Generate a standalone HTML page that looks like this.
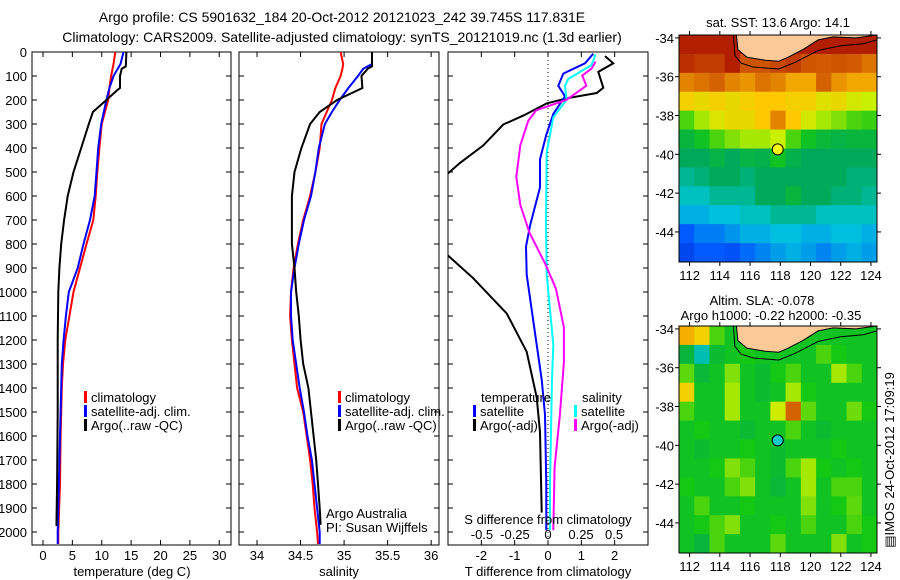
<!DOCTYPE html>
<html><head><meta charset="utf-8">
<style>
html,body{margin:0;padding:0;background:#fff;}
svg{display:block;font-family:"Liberation Sans",sans-serif;}
</style></head>
<body>
<svg id="chart" width="900" height="580" viewBox="0 0 900 580" xmlns="http://www.w3.org/2000/svg">
<text x="342" y="22" font-size="14" text-anchor="middle">Argo profile: CS 5901632_184 20-Oct-2012 20121023_242 39.745S 117.831E</text>
<text x="342" y="42" font-size="14" text-anchor="middle">Climatology: CARS2009. Satellite-adjusted climatology: synTS_20121019.nc (1.3d earlier)</text>
<g id="g"></g>
</svg>
<script>
// ---- profile data ----
const depthT = [0,50,100,150,200,300,400,500,600,700,800,900,1000,1100,1200,1300,1400,1500,1600,1800,2000,2050];
const tempClim = [12.3,12.0,11.6,11.3,11.1,10.0,9.6,9.25,8.97,8.57,7.4,6.3,5.2,4.5,3.8,3.4,3.2,3.1,3.0,2.9,2.6,2.6];
const tempSat = [13.7,13.2,12.0,11.3,10.8,9.9,9.4,9.1,8.8,8.0,6.9,5.9,4.4,3.9,3.5,3.2,3.1,3.0,2.9,2.7,2.5,2.5];
const depthTA = [0,60,70,100,150,160,200,250,300,400,500,600,700,800,900,1000,1200,1500,1800,1950,1975];
const tempArgo = [14.2,14.1,13.4,13.1,13.1,12.6,10.8,8.5,7.8,6.5,5.2,4.2,3.6,3.1,2.8,2.6,2.5,2.5,2.4,2.3,2.3];
const depthS = [0,50,70,100,150,200,250,300,400,500,600,700,800,900,1000,1100,1200,1300,1400,1500,1600,1700,1800,1900,2000,2050];
const salClim = [34.96,34.99,34.98,34.96,34.90,34.86,34.80,34.74,34.72,34.67,34.61,34.53,34.47,34.42,34.39,34.38,34.40,34.43,34.46,34.53,34.57,34.61,34.64,34.66,34.69,34.70];
const salSat = [35.32,35.32,35.22,35.16,35.05,34.95,34.86,34.78,34.71,34.67,34.62,34.54,34.48,34.43,34.39,34.39,34.41,34.45,34.49,34.54,34.58,34.63,34.66,34.69,34.72,34.72];
const depthSA = [0,60,70,100,150,200,250,300,400,500,600,700,800,900,1000,1100,1200,1300,1400,1500,1600,1700,1800,1900,1970];
const salArgo = [35.32,35.32,35.27,35.20,35.21,34.92,34.72,34.61,34.51,34.43,34.40,34.40,34.40,34.43,34.45,34.48,34.50,34.53,34.59,34.62,34.65,34.68,34.70,34.72,34.73];
// difference panel
const dDepthTS = [7,47,90,141,185,258,345,447,564,724,811,928,1074,1220,1365,1511,1802,1992];
const dTSat = [1.36,1.11,0.46,0.31,0.51,0.16,-0.05,-0.24,-0.24,-0.54,-0.66,-0.64,-0.49,-0.34,-0.19,-0.09,-0.05,-0.05];
const dDepthTA = [17,47,83,149,171,193,214,265,302,389,462,506,600,700,800,848,943,1089,1249,1439,1584,1919];
const dTArgo = [1.71,1.96,1.51,1.66,1.46,0.56,-0.04,-0.74,-1.34,-1.94,-2.64,-3.0,-3.8,-3.8,-3.3,-3.0,-2.24,-1.24,-0.64,-0.34,-0.24,-0.19];
const dDepthSS = [10,54,112,141,199,272,418,710,928,1074,1220,1365,1802,1992];
const dSSat = [0.36,0.33,0.154,0.129,0.14,0.04,-0.01,-0.015,-0.01,0.015,0.04,0.03,0.015,0.015];
const dDepthSA = [40,69,98,141,199,243,287,389,520,637,753,884,986,1147,1293,1511,1729,1992];
const dSArgo = [0.36,0.33,0.26,0.29,0.14,-0.09,-0.15,-0.21,-0.24,-0.21,-0.14,-0.02,0.06,0.12,0.12,0.09,0.05,0.04];
const depthTicks = [0,100,200,300,400,500,600,700,800,900,1000,1100,1200,1300,1400,1500,1600,1700,1800,1900,2000];
const tempTicks = [0,5,10,15,20,25,30];
const salTicks = [34,34.5,35,35.5,36];
const tdTicks = [-2,-1,0,1,2];
const sdTicks = [-0.5,-0.25,0,0.25,0.5];
const sdTickLabels = ["-0.5","-0.25","0","0.25","0.5"];
// map data (values 0..1 on colour scale), rows from -34 southward, cols from 111.3 eastward
const sstGrid = [
[0.95,0.95,0.95,0.95,0.95,0.95,0.95,0.95,0.95,0.95,0.95,0.95,0.95],
[0.92,0.9,0.9,0.95,0.86,0.86,0.88,0.9,0.86,0.85,0.86,0.85,0.82],
[0.8,0.82,0.84,0.8,0.78,0.82,0.8,0.76,0.76,0.84,0.78,0.76,0.76],
[0.7,0.68,0.7,0.68,0.7,0.72,0.72,0.7,0.7,0.66,0.68,0.64,0.62],
[0.55,0.6,0.65,0.68,0.68,0.72,0.8,0.72,0.64,0.6,0.58,0.55,0.54],
[0.46,0.5,0.55,0.58,0.6,0.6,0.62,0.55,0.5,0.47,0.45,0.46,0.46],
[0.42,0.42,0.45,0.42,0.45,0.44,0.5,0.44,0.42,0.42,0.42,0.42,0.42],
[0.38,0.4,0.42,0.42,0.4,0.42,0.42,0.42,0.42,0.42,0.42,0.4,0.4],
[0.35,0.35,0.38,0.38,0.38,0.42,0.42,0.46,0.42,0.42,0.4,0.4,0.38],
[0.3,0.3,0.32,0.32,0.35,0.35,0.38,0.38,0.38,0.35,0.35,0.35,0.35],
[0.2,0.24,0.24,0.27,0.3,0.3,0.32,0.32,0.3,0.3,0.32,0.32,0.3],
[0.16,0.2,0.2,0.18,0.22,0.25,0.28,0.3,0.28,0.25,0.28,0.3,0.28]];
const slaGrid = [
[0.75,0.7,0.55,0.5,0.5,0.5,0.5,0.5,0.5,0.5,0.5,0.5,0.5],
[0.46,0.36,0.48,0.5,0.52,0.5,0.5,0.5,0.5,0.55,0.52,0.5,0.5],
[0.56,0.47,0.5,0.58,0.5,0.48,0.52,0.55,0.5,0.5,0.6,0.55,0.5],
[0.7,0.5,0.5,0.6,0.5,0.48,0.5,0.6,0.52,0.5,0.5,0.5,0.5],
[0.55,0.5,0.5,0.6,0.5,0.5,0.63,0.84,0.56,0.5,0.5,0.57,0.52],
[0.5,0.52,0.5,0.5,0.48,0.5,0.5,0.55,0.5,0.48,0.5,0.5,0.5],
[0.5,0.48,0.5,0.5,0.52,0.5,0.48,0.5,0.5,0.5,0.52,0.5,0.5],
[0.5,0.5,0.52,0.58,0.55,0.5,0.48,0.55,0.6,0.52,0.5,0.52,0.5],
[0.52,0.5,0.5,0.55,0.58,0.5,0.47,0.5,0.6,0.5,0.55,0.55,0.5],
[0.5,0.55,0.5,0.5,0.52,0.5,0.5,0.5,0.58,0.5,0.52,0.56,0.5],
[0.5,0.52,0.55,0.58,0.5,0.5,0.52,0.5,0.55,0.5,0.5,0.55,0.52],
[0.5,0.46,0.55,0.5,0.5,0.5,0.56,0.5,0.5,0.5,0.58,0.5,0.52]];
const lonTicks = [112,114,116,118,120,122,124];
const latTicks = [-34,-36,-38,-40,-42,-44];
const argoLon = 117.83, argoLat = -39.745;
const landLon = [115.1,115.2,115.8,117,117.9,118.5,119.5,120.5,121.5,123,124.4];
const landLat = [-33.85,-34.6,-35.0,-35.15,-35.2,-35.0,-34.6,-34.1,-33.95,-34.0,-33.85];
const coastLon = [114.9,115.0,115.4,116.2,117.9,119,120.5,122,123.5,124.4];
const coastLat = [-33.85,-34.9,-35.3,-35.5,-35.6,-35.25,-34.65,-34.4,-34.3,-34.1];

const NS='http://www.w3.org/2000/svg';
const G=document.getElementById('g');
function el(tag,attrs,parent){const e=document.createElementNS(NS,tag);for(const k in attrs)e.setAttribute(k,attrs[k]);(parent||G).appendChild(e);return e;}
function txt(x,y,s,size,anchor,parent){const t=el('text',{x:x,y:y,'font-size':size,'text-anchor':anchor||'middle'},parent);t.textContent=s;return t;}
const Y0=52, PY=0.24, YB=545;
const yD=d=>Y0+d*PY;
const panels=[
 {x0:32,x1:231,lo:-1.87,hi:32.0,name:'temperature-panel'},
 {x0:239,x1:439,lo:33.793,hi:36.09,name:'salinity-panel'},
 {x0:448,x1:648,lo:-3.0,hi:3.0,name:'difference-panel'}];
function xf(p,v){return p.x0+(v-p.lo)/(p.hi-p.lo)*(p.x1-p.x0);}
// clip paths
panels.forEach((p,i)=>{const c=el('clipPath',{id:'clip'+i});el('rect',{x:p.x0,y:Y0,width:p.x1-p.x0,height:YB-Y0},c);});
function line(p,ci,vals,deps,color,w,name){
 let d='';vals.forEach((v,i)=>{d+=(i?'L':'M')+xf(p,v).toFixed(1)+' '+yD(deps[i]).toFixed(1);});
 const e=el('path',{d:d,fill:'none',stroke:color,'stroke-width':w,'clip-path':'url(#clip'+ci+')'});
 
 
}
panels.forEach((p,i)=>{
 const r=el('rect',{x:p.x0,y:Y0,width:p.x1-p.x0,height:YB-Y0,fill:'none',stroke:'#000','stroke-width':1});
 
 
 depthTicks.forEach(d=>{const y=yD(d);el('line',{x1:p.x0,y1:y,x2:p.x0+5,y2:y,stroke:'#000'});el('line',{x1:p.x1-5,y1:y,x2:p.x1,y2:y,stroke:'#000'});});
});
depthTicks.forEach(d=>{const t=txt(27,yD(d)+5,String(d),13,'end');});
// x ticks
function xticks(p,ticks,labels,ly){ticks.forEach((v,i)=>{const x=xf(p,v);el('line',{x1:x,y1:Y0,x2:x,y2:Y0+5,stroke:'#000'});el('line',{x1:x,y1:YB-5,x2:x,y2:YB,stroke:'#000'});const t=txt(x,ly,labels?labels[i]:String(v),13);});}
xticks(panels[0],tempTicks,null,560);
xticks(panels[1],salTicks,null,560);
xticks(panels[2],tdTicks,null,560);
let t;
t=txt(132,576,'temperature (deg C)',13);
t=txt(339,576,'salinity',13);
t=txt(548,576,'T difference from climatology',13);
// series
line(panels[0],0,tempClim,depthT,'#f00',2,'temp-climatology-line');
line(panels[0],0,tempSat,depthT,'#00f',2,'temp-satellite-line');
line(panels[0],0,tempArgo,depthTA,'#000',2,'temp-argo-line');
line(panels[1],1,salClim,depthS,'#f00',2,'sal-climatology-line');
line(panels[1],1,salSat,depthS,'#00f',2,'sal-satellite-line');
line(panels[1],1,salArgo,depthSA,'#000',2,'sal-argo-line');
// zero line
const zx=xf(panels[2],0);
el('line',{x1:zx,y1:Y0,x2:zx,y2:YB,stroke:'#000','stroke-dasharray':'1,3'});
const pS={x0:448,x1:648,lo:-0.757,hi:0.757};
line(panels[2],2,dTArgo,dDepthTA,'#000',2,'tdiff-argo-line');
line(panels[2],2,dTSat,dDepthTS,'#00f',2,'tdiff-satellite-line');
line(pS,2,dSSat,dDepthSS,'#0ff',2,'sdiff-satellite-line');
line(pS,2,dSArgo,dDepthSA,'#f0f',2,'sdiff-argo-line');
sdTicks.forEach((v,i)=>{const tt=txt(xf(pS,v),539,sdTickLabels[i],13);});
t=txt(548,524,'S difference from climatology',13);
// legends
function leg(x,y,color,label,name){el('rect',{x:x,y:y-11,width:3,height:12,fill:color});const tt=txt(x+7,y,label,13,'start');}
[[84,'#f00','climatology'],[84,'#00f','satellite-adj. clim.'],[84,'#000','Argo(..raw -QC)']].forEach((a,i)=>leg(a[0],402+i*14,a[1],a[2],'temp-legend-entry'));
[[338,'#f00','climatology'],[338,'#00f','satellite-adj. clim.'],[338,'#000','Argo(..raw -QC)']].forEach((a,i)=>leg(a[0],402+i*14,a[1],a[2],'sal-legend-entry'));
t=txt(481,402,'temperature',13,'start');
t=txt(582,402,'salinity',13,'start');
leg(473,416,'#00f','satellite','diff-legend-t-satellite');
leg(473,430,'#000','Argo(-adj)','diff-legend-t-argo');
leg(574,416,'#0ff','satellite','diff-legend-s-satellite');
leg(574,430,'#f0f','Argo(-adj)','diff-legend-s-argo');
t=txt(326,518,'Argo Australia',13,'start');
t=txt(326,532,'PI: Susan Wijffels',13,'start');

// ---- maps ----
const stops=[[0,[0,0,160]],[0.2,[0,90,255]],[0.33,[0,200,220]],[0.42,[0,170,90]],[0.52,[20,200,20]],[0.62,[200,240,0]],[0.72,[255,200,0]],[0.85,[210,90,0]],[1,[160,0,0]]];
function cmap(v){for(let i=1;i<stops.length;i++){if(v<=stops[i][0]){const a=stops[i-1],b=stops[i],f=(v-a[0])/(b[0]-a[0]);return 'rgb('+a[1].map((c,j)=>Math.round(c+(b[1][j]-c)*f)).join(',')+')';}}return 'rgb(160,0,0)';}
function drawMap(mx0,my0,grid,title,circColor,name,lab0){
 const mx1=877,my1=my0+227;
 const LON0=111.3,LON1=124.4,LAT0=-33.85,LAT1=-45.55;
 const lx=l=>mx0+(l-LON0)/(LON1-LON0)*(mx1-mx0);
 const ly=l=>my0+(l-LAT0)/(LAT1-LAT0)*(my1-my0);
 const c=el('clipPath',{id:'clip'+name});el('rect',{x:mx0,y:my0,width:mx1-mx0,height:my1-my0},c);
 const g=el('g',{'clip-path':'url(#clip'+name+')'});
 
 
 const nr=grid.length,nc=grid[0].length,cw=(mx1-mx0)/nc,ch=(my1-my0)/nr;
 grid.forEach((row,r)=>row.forEach((v,ci)=>{
   const cell=el('rect',{x:(mx0+ci*cw).toFixed(2),y:(my0+r*ch).toFixed(2),width:(cw+0.6).toFixed(2),height:(ch+0.6).toFixed(2),fill:cmap(v)},g);
   
   
 }));
 let d='';landLon.forEach((l,i)=>{d+=(i?'L':'M')+lx(l).toFixed(1)+' '+ly(landLat[i]).toFixed(1);});
 el('path',{d:d+'Z',fill:'#fbc898',stroke:'#000','stroke-width':1},g);
 d='';coastLon.forEach((l,i)=>{d+=(i?'L':'M')+lx(l).toFixed(1)+' '+ly(coastLat[i]).toFixed(1);});
 el('path',{d:d,fill:'none',stroke:'#000','stroke-width':1},g);
 el('rect',{x:mx0,y:my0,width:mx1-mx0,height:my1-my0,fill:'none',stroke:'#000'});
 const cc=el('circle',{cx:lx(argoLon),cy:ly(argoLat),r:5.5,fill:circColor,stroke:'#000'});
 
 
 lonTicks.forEach(l=>{const x=lx(l);el('line',{x1:x,y1:my0-4,x2:x,y2:my0,stroke:'#000'});el('line',{x1:x,y1:my1,x2:x,y2:my1+4,stroke:'#000'});const tt=txt(x,my1+18,String(l),13);});
 latTicks.forEach(l=>{const y=ly(l);el('line',{x1:mx0-4,y1:y,x2:mx0,y2:y,stroke:'#000'});el('line',{x1:mx1,y1:y,x2:mx1+4,y2:y,stroke:'#000'});const tt=txt(mx0-5,y+5,String(l),13,'end');});
}
drawMap(679,35,sstGrid,'','#ff0','sst-map');
drawMap(679,326,slaGrid,'','#1cc','sla-map');
t=txt(778,27,'sat. SST: 13.6 Argo: 14.1',13);
t=txt(762,305,'Altim. SLA: -0.078',13);
t=txt(771,320,'Argo h1000: -0.22 h2000: -0.35',13);
t=el('text',{x:0,y:0,'font-size':13,'text-anchor':'middle',transform:'translate(894,460) rotate(-90)'});t.textContent='\u25A4IMOS 24-Oct-2012 17:09:19';


</script>
</body></html>
